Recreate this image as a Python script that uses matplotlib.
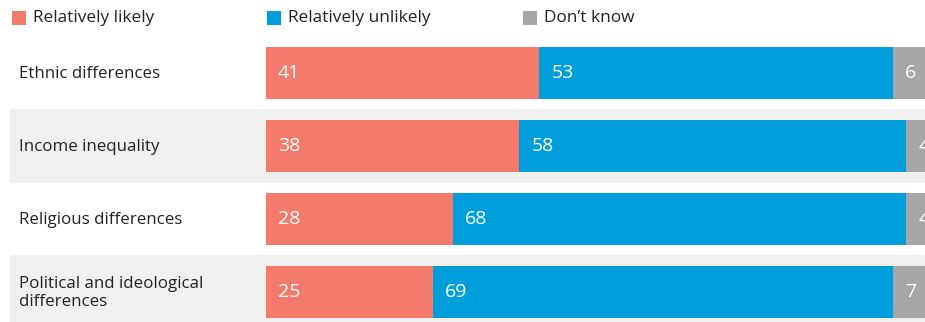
import matplotlib.pyplot as plt
from matplotlib.patches import Rectangle

# Data
categories = ['Ethnic differences', 'Income inequality', 'Religious differences',
              'Political and ideological\ndifferences']
likely = [41, 38, 28, 25]
unlikely = [53, 58, 68, 69]
dont_know = [6, 4, 4, 7]
series_names = ['Relatively likely', 'Relatively unlikely', 'Don\u2019t know']
colors = ['#F47B6B', '#009FDB', '#A7A7AA']

plt.rcParams['font.family'] = ['Open Sans', 'DejaVu Sans']

W, H = 925, 322
fig = plt.figure(figsize=(W / 100, H / 100), dpi=100)
ax = fig.add_axes([0, 0, 1, 1])

# map pixels to data: bars start at x=266px, ~6.67px per percent; rows every 73px
bar_left, unit = 266, 6.67
row_px, row0 = 73, 73


def px_x(p):
    return (p - bar_left) / unit


def px_y(p):
    return (p - row0) / row_px


ax.set_xlim(px_x(0), px_x(W))
ax.set_ylim(px_y(H), px_y(0))
ax.axis('off')

# alternating background bands
for i in range(len(categories)):
    if i % 2 == 1:
        ax.add_patch(Rectangle((px_x(10), i - 37 / row_px), px_x(W + 50) - px_x(10), 74 / row_px,
                               color='#F0F0F0', lw=0, zorder=0))

bar_h = 52 / row_px
y = list(range(len(categories)))
left = [0] * len(categories)
for vals, col in zip([likely, unlikely, dont_know], colors):
    ax.barh(y, vals, left=left, height=bar_h, color=col, lw=0, zorder=2)
    for i, v in enumerate(vals):
        ax.text(left[i] + 12 / unit, i, str(v), color='white', fontsize=14,
                va='center', ha='left', zorder=3)
    left = [a + b for a, b in zip(left, vals)]

for i, c in enumerate(categories):
    ax.text(px_x(19), i + 1 / row_px, c, fontsize=12.2, color='#222222', va='center', ha='left',
            linespacing=1.2, zorder=3)

# legend
leg_x = [12, 267, 523]
ly = px_y(18)
for lx, name, col in zip(leg_x, series_names, colors):
    ax.add_patch(Rectangle((px_x(lx), ly - 7 / row_px), 14 / unit, 14 / row_px,
                           color=col, lw=0, zorder=3))
    ax.text(px_x(lx + 21), ly, name, fontsize=12.4, color='#222222', va='center', ha='left')

fig.savefig('out.png', dpi=100)
